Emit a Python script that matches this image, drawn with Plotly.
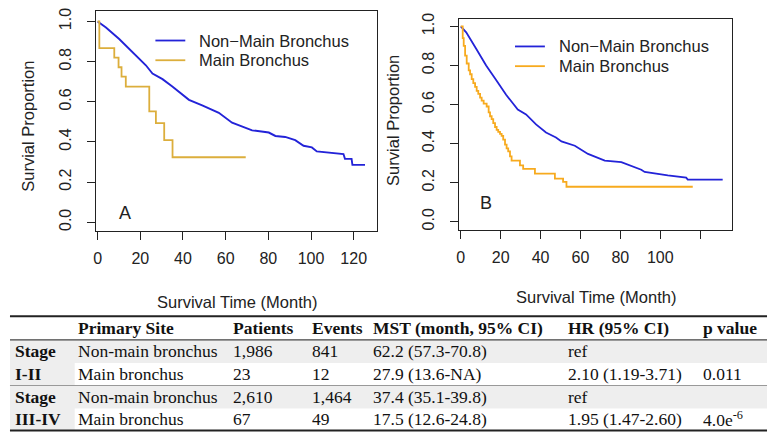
import plotly.graph_objects as go

# ---------------- data ----------------
# Panel A (Stage I-II)
a_nonmain_t = [0, 3.9, 10.1, 16.3, 22.6, 25.7, 30.4, 35, 42.8, 49, 56.8, 63, 67.7, 72.4,
               80.2, 83.3, 87.9, 92.6, 96.5, 100.4, 102.7, 109.7, 115.2, 115.9, 119.0, 119.4, 125.3]
a_nonmain_s = [1.0, 0.97, 0.913, 0.847, 0.782, 0.741, 0.713, 0.676, 0.61, 0.582, 0.545, 0.496, 0.479, 0.458,
               0.447, 0.43, 0.425, 0.409, 0.381, 0.373, 0.353, 0.344, 0.34, 0.316, 0.316, 0.286, 0.286]
a_main_t = [0, 0.8, 7.8, 9.8, 11.2, 13.2, 24.2, 27.3, 31.2, 35.1, 69.4]
a_main_s = [1.0, 0.867, 0.82, 0.772, 0.725, 0.676, 0.552, 0.494, 0.409, 0.324, 0.324]

# Panel B (Stage III-IV)
b_nonmain_t = [0, 2.75, 7.75, 12.75, 17.75, 22.75, 28.6, 32.75, 37.75, 42.75, 47.75, 50.5, 57.2, 63.8,
               72.2, 80.5, 90.5, 92.2, 103.8, 113, 113.8, 131.3]
b_nonmain_s = [1.0, 0.97, 0.886, 0.80, 0.726, 0.65, 0.574, 0.549, 0.498, 0.457, 0.431, 0.411, 0.389, 0.347,
               0.313, 0.305, 0.266, 0.255, 0.237, 0.226, 0.216, 0.216]
b_main_t = [0, 1.0, 1.5, 2.2, 3.0, 4.0, 4.7, 5.5, 6.3, 7.2, 8.0, 8.8, 9.7, 10.5, 11.5, 13.0, 14.0, 14.7,
            15.5, 16.3, 17.2, 18.0, 18.8, 19.7, 20.5, 21.3, 22.2, 23.0, 23.8, 24.7, 25.5, 29.7, 31.3,
            37.2, 47.2, 51.3, 53.0, 116.3]
b_main_s = [1.0, 0.94, 0.90, 0.85, 0.81, 0.775, 0.755, 0.73, 0.71, 0.69, 0.67, 0.655, 0.635, 0.62, 0.605,
            0.59, 0.56, 0.54, 0.525, 0.505, 0.485, 0.47, 0.46, 0.45, 0.44, 0.42, 0.395, 0.375, 0.36, 0.335,
            0.313, 0.288, 0.271, 0.246, 0.221, 0.204, 0.179, 0.179]

series_names = ["Non\u2212Main Bronchus", "Main Bronchus"]
y_ticks = [0.0, 0.2, 0.4, 0.6, 0.8, 1.0]
y_ticklabels = ["0.0", "0.2", "0.4", "0.6", "0.8", "1.0"]
a_x_ticks = [0, 20, 40, 60, 80, 100, 120]
a_x_ticklabels = ["0", "20", "40", "60", "80", "100", "120"]
b_x_ticks = [0, 20, 40, 60, 80, 100]
b_x_ticklabels = ["0", "20", "40", "60", "80", "100"]
b_x_unlabeled_ticks = [120]

# Table
table_header = ["Primary Site", "Patients", "Events", "MST (month, 95% CI)", "HR (95% CI)", "p value"]
stage_labels = [["Stage", "I-II"], ["Stage", "III-IV"]]
primary_site = ["Non-main bronchus", "Main bronchus", "Non-main bronchus", "Main bronchus"]
patients = ["1,986", "23", "2,610", "67"]
events = ["841", "12", "1,464", "49"]
mst = ["62.2 (57.3-70.8)", "27.9 (13.6-NA)", "37.4 (35.1-39.8)", "17.5 (12.6-24.8)"]
hr = ["ref", "2.10 (1.19-3.71)", "ref", "1.95 (1.47-2.60)"]
pval = ["", "0.011", "", "4.0e<sup>-6</sup>"]

# ---------------- figure ----------------
W, H = 772, 437
BLUE = "#2323d8"
GOLD_A = "#dcae3c"
GOLD_B = "#f7aa1e"
SANS = "Liberation Sans, Arial, sans-serif"
SERIF = "Liberation Serif, Times New Roman, serif"
TXT = "#222"


def px(x):
    return x / W


def py(y):
    return 1 - y / H


fig = go.Figure()
fig.add_trace(go.Scatter(x=a_nonmain_t, y=a_nonmain_s, mode="lines", name=series_names[0],
                         line=dict(color=BLUE, width=1.9), xaxis="x", yaxis="y"))
fig.add_trace(go.Scatter(x=a_main_t, y=a_main_s, mode="lines", name=series_names[1],
                         line=dict(color=GOLD_A, width=1.8, shape="hv"), xaxis="x", yaxis="y"))
fig.add_trace(go.Scatter(x=b_nonmain_t, y=b_nonmain_s, mode="lines", name=series_names[0],
                         line=dict(color=BLUE, width=1.8), xaxis="x2", yaxis="y2"))
fig.add_trace(go.Scatter(x=b_main_t, y=b_main_s, mode="lines", name=series_names[1],
                         line=dict(color=GOLD_B, width=1.8, shape="hv"), xaxis="x2", yaxis="y2"))

tickfont = dict(family=SANS, size=16, color=TXT)
common_x = dict(showline=True, mirror=True, linecolor=TXT, linewidth=1, ticks="outside", ticklen=8,
                tickwidth=1, tickcolor=TXT, showgrid=False, zeroline=False, tickfont=tickfont,
                ticklabelstandoff=5)
common_y = dict(showline=True, mirror=True, linecolor=TXT, linewidth=1, ticks="outside", ticklen=8,
                tickwidth=1, tickcolor=TXT, showgrid=False, zeroline=False, tickfont=tickfont,
                tickangle=-90, tickvals=y_ticks, ticktext=y_ticklabels, ticklabelstandoff=10)

fig.update_layout(
    width=W, height=H, margin=dict(l=0, r=0, t=0, b=0),
    paper_bgcolor="white", plot_bgcolor="white", showlegend=False,
    xaxis=dict(domain=[px(93.5), px(375)], range=[-0.7, 130.7], anchor="y",
               tickvals=a_x_ticks, ticktext=a_x_ticklabels, **common_x),
    yaxis=dict(domain=[py(228.3), py(5)], range=[-0.0442, 1.0526], anchor="x", **common_y),
    xaxis2=dict(domain=[px(457.7), px(731.7)], range=[-0.9, 135.9], anchor="y2",
                tickvals=b_x_ticks, ticktext=b_x_ticklabels,
                minor=dict(tickvals=b_x_unlabeled_ticks, ticks="outside", ticklen=8, tickwidth=1,
                           tickcolor=TXT, showgrid=False),
                **common_x),
    yaxis2=dict(domain=[py(227.3), py(12.7)], range=[-0.0434, 1.0404], anchor="x2", **common_y),
)

annotations = []
shapes = []

# legends (key line + label), one per panel
legend_specs = [
    (153, [35, 55], [BLUE, GOLD_A]),
    (514, [41, 61], [BLUE, GOLD_B]),
]
leg_font = dict(family=SANS, size=16.5, color=TXT)
for x0, ys, cols in legend_specs:
    for name, yy, col in zip(series_names, ys, cols):
        shapes.append(dict(type="line", xref="paper", yref="paper", x0=px(x0), x1=px(x0 + 30),
                           y0=py(yy), y1=py(yy), line=dict(color=col, width=1.8)))
        annotations.append(dict(text=name, x=px(x0 + 42), y=py(yy), xref="paper", yref="paper",
                                showarrow=False, font=leg_font, xanchor="left", yanchor="middle"))

# axis titles & panel letters
title_font = dict(family=SANS, size=16.5, color=TXT)
annotations.append(dict(text="Survival Time (Month)", x=px(235), y=py(300), xref="paper", yref="paper",
                        showarrow=False, font=title_font, xanchor="center", yanchor="middle"))
annotations.append(dict(text="Survival Time (Month)", x=px(595), y=py(295), xref="paper", yref="paper",
                        showarrow=False, font=title_font, xanchor="center", yanchor="middle"))
annotations.append(dict(text="Survial Proportion", x=px(25), y=py(121.5), xref="paper", yref="paper",
                        showarrow=False, font=title_font, textangle=-90, xanchor="center", yanchor="middle"))
annotations.append(dict(text="Survial Proportion", x=px(392), y=py(116), xref="paper", yref="paper",
                        showarrow=False, font=title_font, textangle=-90, xanchor="center", yanchor="middle"))
annotations.append(dict(text="A", x=px(122), y=py(210), xref="paper", yref="paper", showarrow=False,
                        font=dict(family=SANS, size=18, color=TXT), xanchor="center", yanchor="middle"))
annotations.append(dict(text="B", x=px(485), y=py(200), xref="paper", yref="paper", showarrow=False,
                        font=dict(family=SANS, size=18, color=TXT), xanchor="center", yanchor="middle"))

# table geometry
T_LEFT, T_RIGHT = 7, 767
STAGE_W = 72
col_x = [10, 73, 229, 308, 369, 565, 701]
header_y = 326
row_y = [350, 373, 396, 419]
GRAY = "#eeeeee"

for top, bot in [(338.5, 384.5), (385, 430.5)]:
    shapes.append(dict(type="rect", xref="paper", yref="paper", x0=px(T_LEFT), x1=px(T_RIGHT),
                       y0=py(bot), y1=py(top), fillcolor=GRAY, line=dict(width=0), layer="below"))
for top, bot in [(362, 384.5), (408, 430.5)]:
    shapes.append(dict(type="rect", xref="paper", yref="paper", x0=px(STAGE_W), x1=px(T_RIGHT),
                       y0=py(bot), y1=py(top), fillcolor="white", line=dict(width=0), layer="below"))
for yy, w, c in [(314.5, 2, "#222"), (338.5, 1.4, "#444"), (384.8, 1.2, "#999"), (430.5, 2, "#222")]:
    shapes.append(dict(type="line", xref="paper", yref="paper", x0=px(T_LEFT), x1=px(T_RIGHT),
                       y0=py(yy), y1=py(yy), line=dict(color=c, width=w)))

tfont = dict(family=SERIF, size=17.5, color="#111")
for i, h in enumerate(table_header):
    annotations.append(dict(text="<b>" + h + "</b>", x=px(col_x[i + 1]), y=py(header_y), xref="paper",
                            yref="paper", showarrow=False, font=tfont, xanchor="left", yanchor="middle"))
for g, lines in enumerate(stage_labels):
    for k, s in enumerate(lines):
        annotations.append(dict(text="<b>" + s + "</b>", x=px(col_x[0]), y=py(row_y[2 * g + k]), xref="paper",
                                yref="paper", showarrow=False, font=tfont, xanchor="left", yanchor="middle"))
columns = [primary_site, patients, events, mst, hr, pval]
for c, col in enumerate(columns):
    for r, val in enumerate(col):
        if val == "":
            continue
        annotations.append(dict(text=val, x=px(col_x[c + 1]), y=py(row_y[r]), xref="paper", yref="paper",
                                showarrow=False, font=tfont, xanchor="left", yanchor="middle"))

fig.update_layout(annotations=annotations, shapes=shapes)
fig.write_html("out.html", config={"displayModeBar": False},
               post_script="document.body.style.margin='0';document.body.style.overflow='hidden';")
